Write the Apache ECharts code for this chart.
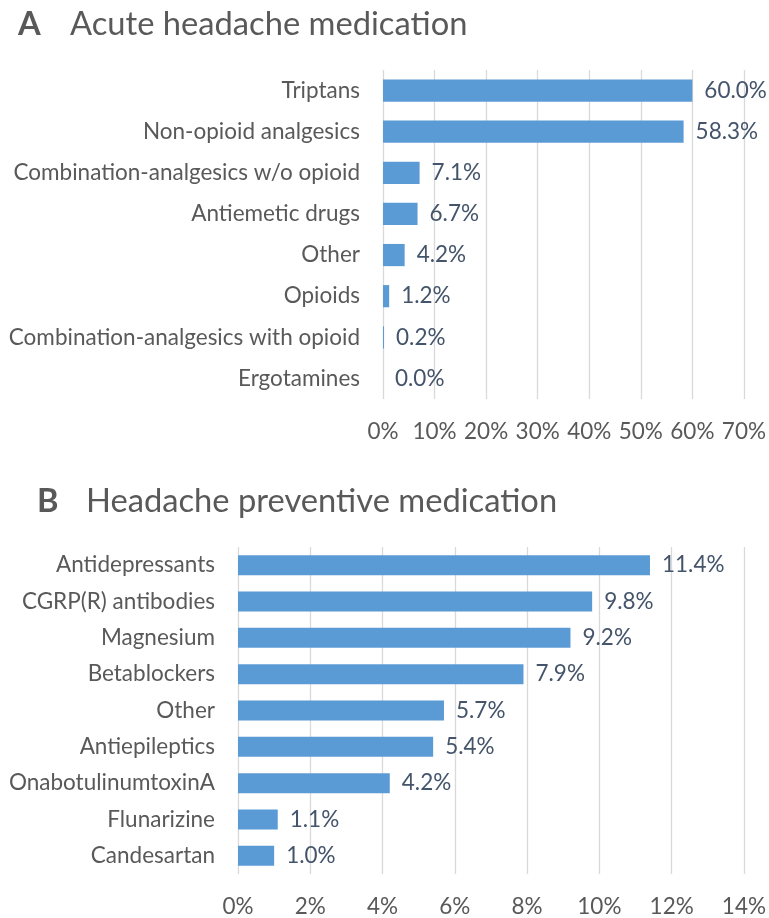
<!DOCTYPE html>
<html>
<head>
<meta charset="utf-8">
<script src="https://cdn.jsdelivr.net/npm/echarts@6/dist/echarts.min.js"></script>
<style>
html,body{margin:0;padding:0;background:#fff;}
#chart{width:769px;height:918px;}
</style>
</head>
<body>
<div id="chart"></div>
<script>
// Panel A data
const acuteCategories = [
  'Triptans',
  'Non-opioid analgesics',
  'Combination-analgesics w/o opioid',
  'Antiemetic drugs',
  'Other',
  'Opioids',
  'Combination-analgesics with opioid',
  'Ergotamines'
];
const acuteValues = [60.0, 58.3, 7.1, 6.7, 4.2, 1.2, 0.2, 0.0];
const acuteTicks = [0, 10, 20, 30, 40, 50, 60, 70];

// Panel B data
const preventiveCategories = [
  'Antidepressants',
  'CGRP(R) antibodies',
  'Magnesium',
  'Betablockers',
  'Other',
  'Antiepileptics',
  'OnabotulinumtoxinA',
  'Flunarizine',
  'Candesartan'
];
const preventiveValues = [11.4, 9.8, 9.2, 7.9, 5.7, 5.4, 4.2, 1.1, 1.0];
const preventiveTicks = [0, 2, 4, 6, 8, 10, 12, 14];

const FONT = 'Lato';
const LABEL_SIZE = 22.5;
const TITLE_SIZE = 32.7;
const BAR_COLOR = '#5B9BD5';
const VALUE_COLOR = '#44546A';
const TEXT_COLOR = '#595959';
const GRID_COLOR = '#D9D9D9';

const chart = echarts.init(document.getElementById('chart'), null, {renderer: 'canvas'});

function xAxisCfg(gridIndex, ticks) {
  return {
    type: 'value',
    gridIndex: gridIndex,
    min: ticks[0],
    max: ticks[ticks.length - 1],
    interval: ticks[1] - ticks[0],
    axisLine: {show: false},
    axisTick: {show: false},
    splitLine: {show: true, lineStyle: {color: GRID_COLOR, width: 1.3}},
    axisLabel: {
      formatter: v => v + '%',
      color: TEXT_COLOR,
      fontFamily: FONT,
      fontSize: LABEL_SIZE,
      margin: 21
    }
  };
}
function yAxisCfg(gridIndex, cats) {
  return {
    type: 'category',
    gridIndex: gridIndex,
    data: cats,
    inverse: true,
    axisLine: {show: false},
    axisTick: {show: false},
    splitLine: {show: false},
    axisLabel: {
      color: TEXT_COLOR,
      fontFamily: FONT,
      fontSize: LABEL_SIZE,
      margin: 23
    }
  };
}
function seriesCfg(idx, values, gap) {
  return {
    type: 'bar',
    xAxisIndex: idx,
    yAxisIndex: idx,
    data: values,
    barCategoryGap: gap,
    itemStyle: {color: BAR_COLOR},
    silent: true,
    label: {
      show: true,
      position: 'right',
      distance: 12,
      formatter: p => p.value.toFixed(1) + '%',
      color: VALUE_COLOR,
      fontFamily: FONT,
      fontSize: LABEL_SIZE
    }
  };
}

function titleCfg(letter, text, left, top, letterWidth) {
  return {
    text: '{b|' + letter + '}{n|' + text + '}',
    left: left, top: top,
    padding: 0,
    textStyle: {
      rich: {
        b: {fontFamily: FONT, fontSize: TITLE_SIZE, fontWeight: 'bold', color: TEXT_COLOR, width: letterWidth, lineHeight: 38},
        n: {fontFamily: FONT, fontSize: TITLE_SIZE, fontWeight: 'normal', color: TEXT_COLOR, lineHeight: 38}
      }
    }
  };
}

chart.setOption({
  animation: false,
  backgroundColor: '#ffffff',
  title: [
    titleCfg('A', 'Acute headache medication', 18, 5, 52),
    titleCfg('B', 'Headache preventive medication', 37, 482, 49)
  ],
  grid: [
    {left: 383, right: 25, top: 70, height: 329, containLabel: false},
    {left: 238, right: 25, top: 547, height: 330, containLabel: false}
  ],
  xAxis: [xAxisCfg(0, acuteTicks), xAxisCfg(1, preventiveTicks)],
  yAxis: [yAxisCfg(0, acuteCategories), yAxisCfg(1, preventiveCategories)],
  series: [seriesCfg(0, acuteValues, '46%'), seriesCfg(1, preventiveValues, '45%')]
});
</script>
</body>
</html>
